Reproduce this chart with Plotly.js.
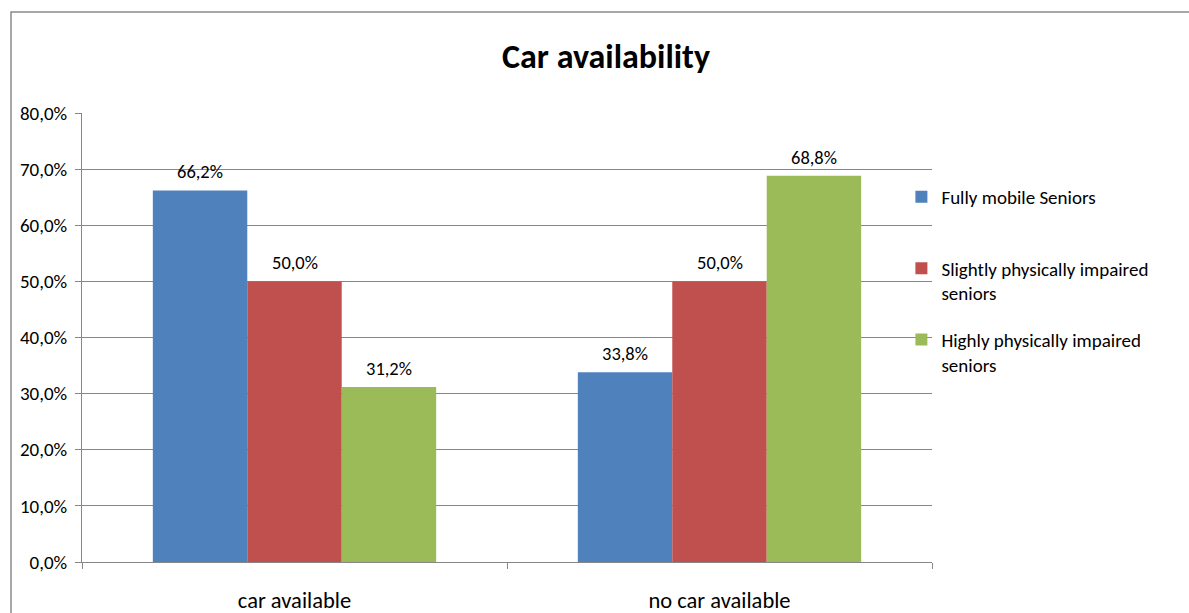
<!DOCTYPE html>
<html>
<head>
<meta charset="utf-8">
<script src="https://cdn.plot.ly/plotly-3.0.1.min.js"></script>
<style>
  html, body { margin: 0; padding: 0; background: #fff; }
  #chart { width: 1189px; height: 613px; }
</style>
</head>
<body>
<div id="chart"></div>
<script>
// Car availability by mobility group (share of respondents, %)
const categories = ['car available', 'no car available'];
const seriesNames = [
  'Fully mobile Seniors<br> ',
  'Slightly physically impaired<br>seniors',
  'Highly physically impaired<br>seniors'
];
const fullyMobile = [66.2, 33.8];
const slightlyImpaired = [50.0, 50.0];
const highlyImpaired = [31.2, 68.8];
const yTicks = [0, 10, 20, 30, 40, 50, 60, 70, 80];

const seriesValues = [fullyMobile, slightlyImpaired, highlyImpaired];
const colors = ['#4F81BD', '#C0504D', '#9BBB59'];
const FONT = 'Carlito, Calibri, Lato, "Open Sans", sans-serif';

// decimal comma, one decimal place
const pct = v => v.toFixed(1).replace('.', ',') + '%';

const traces = seriesValues.map((vals, k) => ({
  type: 'bar',
  name: seriesNames[k],
  x: categories,
  y: vals,
  marker: { color: colors[k], line: { width: 0 } },
  legendgroup: 'g' + k,
  hoverinfo: 'skip'
}));

// value labels above each bar, offset to the bar's slot within its group
const slot = (1 - 1 / 3) / 3;
const annotations = [];
seriesValues.forEach((vals, k) => {
  vals.forEach((v, i) => {
    annotations.push({
      x: i + (k - 1) * slot,
      y: v,
      xref: 'x', yref: 'y',
      text: pct(v),
      showarrow: false,
      yanchor: 'bottom',
      yshift: 5,
      font: { family: FONT, size: 18.5, color: '#000' }
    });
  });
});

const layout = {
  width: 1189,
  height: 613,
  margin: { l: 82, r: 257, t: 113, b: 51 },
  paper_bgcolor: '#fff',
  plot_bgcolor: '#fff',
  font: { family: FONT, color: '#000' },
  title: {
    text: '<b>Car availability</b>',
    font: { family: FONT, size: 34, color: '#000' },
    xref: 'container', yref: 'container',
    x: 0.5097, y: 0.909,
    xanchor: 'center', yanchor: 'middle'
  },
  barmode: 'group',
  bargap: 1 / 3,
  bargroupgap: 0,
  xaxis: {
    type: 'category',
    showgrid: false,
    showline: true,
    linecolor: '#868686',
    linewidth: 1,
    ticks: 'outside',
    tickson: 'boundaries',
    ticklen: 6,
    tickcolor: '#868686',
    tickfont: { family: FONT, size: 22.5, color: '#000' },
    ticklabelstandoff: 18,
    zeroline: false,
    fixedrange: true
  },
  yaxis: {
    range: [0, 80],
    tickmode: 'array',
    tickvals: yTicks,
    ticktext: yTicks.map(pct),
    showgrid: true,
    gridcolor: '#868686',
    gridwidth: 1,
    showline: true,
    linecolor: '#868686',
    linewidth: 1,
    ticks: 'outside',
    ticklen: 6,
    tickcolor: '#868686',
    tickfont: { family: FONT, size: 19, color: '#000' },
    ticklabelstandoff: 4,
    zeroline: false,
    fixedrange: true
  },
  showlegend: true,
  legend: {
    x: 0.964, y: 0.8555,
    xanchor: 'left', yanchor: 'top',
    valign: 'top',
    traceorder: 'grouped',
    tracegroupgap: 19,
    itemwidth: 30,
    font: { family: FONT, size: 19, color: '#000' },
    bgcolor: 'rgba(0,0,0,0)',
    borderwidth: 0
  },
  shapes: [{
    type: 'rect',
    xref: 'paper', yref: 'paper',
    x0: (11 - 82) / 850, x1: (1200 - 82) / 850,
    y0: (562 - 630) / 449, y1: (562 - 12) / 449,
    line: { color: '#8a8a8a', width: 1.5 },
    fillcolor: 'rgba(0,0,0,0)',
    layer: 'below'
  }],
  annotations: annotations
};

Plotly.newPlot('chart', traces, layout, { displayModeBar: false, staticPlot: true });
</script>
</body>
</html>
